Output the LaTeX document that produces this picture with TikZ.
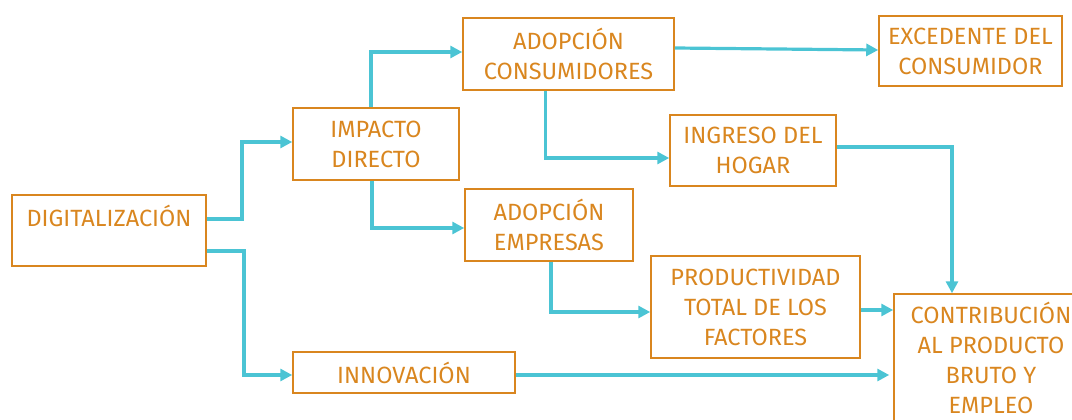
\documentclass[tikz,border=0pt]{standalone}
\usepackage{fontspec}
\setmainfont{Fira Sans}
\usetikzlibrary{arrows.meta}
\definecolor{orn}{HTML}{D9861F}
\definecolor{cya}{HTML}{4BC4D4}
\begin{document}
\begin{tikzpicture}[x=1pt,y=-1pt,
  box/.style={draw=orn,line width=1.5pt,text=orn,rectangle,inner sep=0pt,align=center,
    font=\fontsize{23.5}{30}\selectfont},
  conn/.style={draw=cya,line width=3.2pt,-{Triangle[length=12pt,width=12pt]}}]
\useasboundingbox (0,0) rectangle (1072,420);
\clip (0,0) rectangle (1072,420);
\node[box,minimum width=194pt,minimum height=71pt] (dig) at (109,230.5) {DIGITALIZACIÓN\\\mbox{}};
\node[box,minimum width=166pt,minimum height=72pt] (imp) at (376,144) {IMPACTO\\DIRECTO};
\node[box,minimum width=211pt,minimum height=72pt] (adc) at (568.5,54) {ADOPCIÓN\\CONSUMIDORES};
\node[box,minimum width=183pt,minimum height=70pt] (exc) at (970.5,51) {EXCEDENTE DEL\\CONSUMIDOR};
\node[box,minimum width=166pt,minimum height=71pt] (ing) at (753,150.5) {INGRESO DEL\\HOGAR};
\node[box,minimum width=168pt,minimum height=72pt] (ade) at (549,225) {ADOPCIÓN\\EMPRESAS};
\node[box,minimum width=209pt,minimum height=102pt] (ptf) at (755.5,307) {PRODUCTIVIDAD\\TOTAL DE LOS\\FACTORES};
\node[box,minimum width=222pt,minimum height=41pt] (inn) at (404,372.5) {INNOVACIÓN};
\node[box,minimum width=194pt,minimum height=128pt] (con) at (991,358) {CONTRIBUCIÓN\\AL PRODUCTO\\BRUTO Y\\EMPLEO};
% connectors
\draw[conn] ([yshift=11.5pt]dig.east) -| (242,142) -- (imp.west |- 0,142);
\draw[conn] ([yshift=-20.5pt]dig.east) -| (244,375) -- (inn.west |- 0,375);
\draw[conn] ([xshift=-5pt]imp.north) |- ([yshift=2pt]adc.west);
\draw[conn] ([xshift=-4pt]imp.south) |- ([yshift=-3pt]ade.west);
\draw[conn] ([yshift=6pt]adc.east) -- ([yshift=1pt]exc.west);
\draw[conn] ([xshift=-23pt]adc.south) |- ([yshift=-7.5pt]ing.west);
\draw[conn] ([yshift=3.5pt]ing.east) -| ([xshift=-39pt]con.north);
\draw[conn] ([xshift=2pt]ade.south) |- ([yshift=-5pt]ptf.west);
\draw[conn] ([yshift=-3pt]ptf.east) -- ([yshift=48pt]con.west);
\draw[conn] ([yshift=-2.5pt]inn.east) -- ([yshift=-17pt,xshift=-4pt]con.west);
\end{tikzpicture}
\end{document}
